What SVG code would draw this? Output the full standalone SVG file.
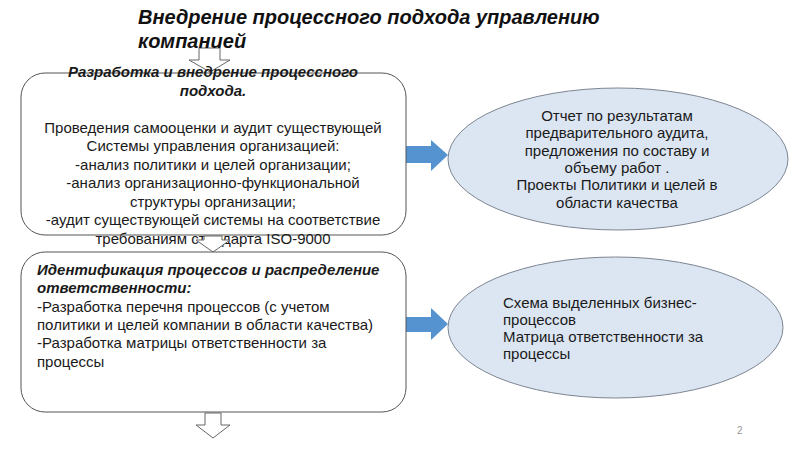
<svg xmlns="http://www.w3.org/2000/svg" width="800" height="450" viewBox="0 0 800 450">
<style>
text{font-family:"Liberation Sans",Arial,sans-serif;font-size:15px;fill:#1a1a1a}
.title{font-size:20px;font-weight:bold;font-style:italic;fill:#111}
.bi{font-weight:bold;font-style:italic}
.box{fill:#fff;stroke:#555;stroke-width:1}
.ell{fill:#dce6f2;stroke:#7d8591;stroke-width:1}
.hollow{fill:#fff;stroke:#666;stroke-width:1}
.blue{fill:#5592d0;stroke:none}
.c{text-anchor:middle}
</style>
<rect width="800" height="450" fill="#fff"/>
<g id="connectors">
<polygon class="hollow" points="199,48 220,48 220,60 230,60 210,72 189,60 199,60"/>
<polygon class="blue" points="405,146 431,146 431,140 448,155 431,171 431,163 405,163"/>
<polygon class="blue" points="405,317 431,317 431,308 448,324 431,340 431,332 405,332"/>
</g>
<g id="title">
<text class="title" x="138" y="24">Внедрение процессного подхода управлению</text>
<text class="title" x="138" y="48">компанией</text>
</g>
<g id="box1">
<rect class="box" x="21" y="73" width="385" height="162" rx="24"/>
<text class="c" x="213" y="77"><tspan class="bi">Разработка и внедрение процессного</tspan><tspan class="bi" x="213" dy="18.5">подхода.</tspan><tspan x="213" dy="37">Проведения самооценки и аудит существующей</tspan><tspan x="213" dy="18.5">Системы управления организацией:</tspan><tspan x="213" dy="18.5">-анализ политики и целей организации;</tspan><tspan x="213" dy="18.5">-анализ организационно-функциональной</tspan><tspan x="213" dy="18.5">структуры организации;</tspan><tspan x="213" dy="18.5">-аудит существующей системы на соответствие</tspan><tspan x="213" dy="18.5">требованиям стандарта ISO-9000</tspan></text>
</g>
<g id="arrow-mid">
<polygon class="hollow" points="204,236 222,236 222,240 230,240 213,252 196,240 204,240"/>
</g>
<g id="box2">
<rect class="box" x="21" y="252" width="385" height="160" rx="24"/>
<text x="37" y="275"><tspan class="bi">Идентификация процессов и распределение</tspan><tspan class="bi" x="37" dy="18.3">ответственности:</tspan><tspan x="37" dy="18.3">-Разработка перечня процессов (с учетом</tspan><tspan x="37" dy="18.3">политики и целей компании в области качества)</tspan><tspan x="37" dy="18.3">-Разработка матрицы ответственности за</tspan><tspan x="37" dy="18.3">процессы</tspan></text>
</g>
<g id="arrow-bottom">
<polygon class="hollow" points="205,413 221,413 221,425 230,425 213,438 196,425 205,425"/>
</g>
<g id="result1">
<ellipse class="ell" cx="618" cy="159" rx="170" ry="71"/>
<text class="c" x="617" y="121"><tspan>Отчет по результатам</tspan><tspan x="617" dy="17.3">предварительного аудита,</tspan><tspan x="617" dy="17.3">предложения по составу и</tspan><tspan x="617" dy="17.3">объему работ .</tspan><tspan x="617" dy="17.3">Проекты Политики и целей в</tspan><tspan x="617" dy="17.3">области качества</tspan></text>
</g>
<g id="result2">
<ellipse class="ell" cx="615.5" cy="327.5" rx="167.5" ry="70.5"/>
<text x="503" y="308"><tspan>Схема выделенных бизнес-</tspan><tspan x="503" dy="17">процессов</tspan><tspan x="503" dy="17">Матрица ответственности за</tspan><tspan x="503" dy="17">процессы</tspan></text>
</g>
<text x="737" y="434" style="font-size:10px;fill:#999">2</text>
</svg>
